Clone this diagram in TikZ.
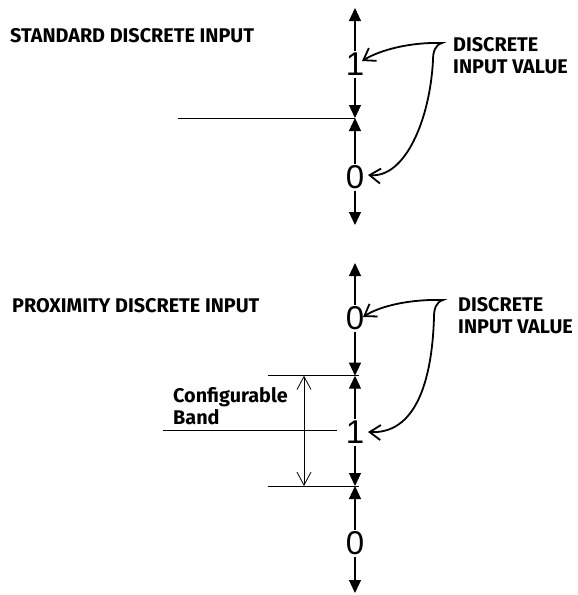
\documentclass[tikz,border=0pt]{standalone}
\usepackage{fontspec}
\newfontfamily\labfont{Fira Sans}
\newfontfamily\numfont{Liberation Sans}
\usetikzlibrary{arrows.meta}
\tikzset{
  lab/.style={font=\labfont\bfseries\fontsize{19.8}{22}\selectfont, anchor=west, inner sep=0pt},
  lab2/.style={font=\labfont\bfseries\fontsize{19.8}{22}\selectfont, anchor=west, inner sep=0pt, align=left},
  num/.style={font=\numfont\fontsize{33}{33}\selectfont, text height=23.6pt, text depth=0pt, inner xsep=0pt, inner ysep=1.5pt},
  axis/.style={line width=1.2pt, -{Triangle[length=13pt,width=12pt]}},
  thin/.style={line width=0.9pt},
  band/.style={line width=0.8pt, {Straight Barb[length=13pt,width=14pt]}-{Straight Barb[length=13pt,width=14pt]}},
  curve/.style={line width=1.8pt, {Straight Barb[length=11pt,width=15pt]}-{Straight Barb[length=11pt,width=15pt]}},
}
\begin{document}
\begin{tikzpicture}[x=1pt,y=-1pt]
\useasboundingbox (0,0) rectangle (578,595);
% ---------- Standard
\node[lab] (t1) at (10,36) {STANDARD DISCRETE INPUT};
\node[lab2] (v1) at (453,56) {DISCRETE\\INPUT VALUE};
\coordinate (a1top) at (355,8);
\node[num] (a1one) at (355,64) {1};
\coordinate (a1j) at (355,118);
\node[num] (a1zero) at (355,177) {0};
\coordinate (a1bot) at (355,225);
\coordinate (a1l) at (178,118);
\draw[axis] (a1one) -- (a1top);
\draw[axis] (a1one) -- (a1j);
\draw[axis] (a1zero) -- (a1j);
\draw[axis] (a1zero) -- (a1bot);
\draw[thin] (a1l) -- (a1j);
\coordinate (h1) at (442,43);
\coordinate (h1b) at (433,60);
\coordinate (c1a) at (362,61);
\coordinate (c1b) at (368,175);
\draw[curve] (c1a) .. controls (380,50) and (410,42) .. (h1)
  .. controls (435,45) and (433,52) .. (h1b)
  .. controls (430,120) and (405,178) .. (c1b);
% ---------- Proximity
\node[lab] (t2) at (12,306) {PROXIMITY DISCRETE INPUT};
\node[lab2] (v2) at (458,316) {DISCRETE\\INPUT VALUE};
\coordinate (b2top) at (355,263);
\node[num] (b2zero) at (355,318) {0};
\coordinate (b2j1) at (355,375.7);
\node[num] (b2one) at (355,432) {1};
\coordinate (b2j2) at (355,486);
\node[num] (b2zero2) at (355,543) {0};
\coordinate (b2bot) at (355,593);
\draw[axis] (b2zero) -- (b2top);
\draw[axis] (b2zero) -- (b2j1);
\draw[axis] (b2one) -- (b2j1);
\draw[axis] (b2one) -- (b2j2);
\draw[axis] (b2zero2) -- (b2j2);
\draw[axis] (b2zero2) -- (b2bot);
\coordinate (bl1) at (268,375.7);
\coordinate (br1) at (359,375.7);
\coordinate (bl2) at (268,486);
\coordinate (br2) at (359,486);
\draw[thin] (bl1) -- (br1);
\draw[thin] (bl2) -- (br2);
\coordinate (bt) at (304,375.7);
\coordinate (bb) at (304,486);
\draw[band] (bt) -- (bb);
\node[lab2] (cb) at (173,406) {Configurable\\Band};
\coordinate (ml) at (163,430);
\coordinate (mr) at (337,430);
\draw[thin] (ml) -- (mr);
\coordinate (h2) at (443,300);
\coordinate (h2b) at (434,317);
\coordinate (c2a) at (363,317);
\coordinate (c2b) at (368,432);
\draw[curve] (c2a) .. controls (380,306) and (410,299) .. (h2)
  .. controls (436,302) and (434,309) .. (h2b)
  .. controls (432,385) and (414,434) .. (c2b);
\end{tikzpicture}
\end{document}
